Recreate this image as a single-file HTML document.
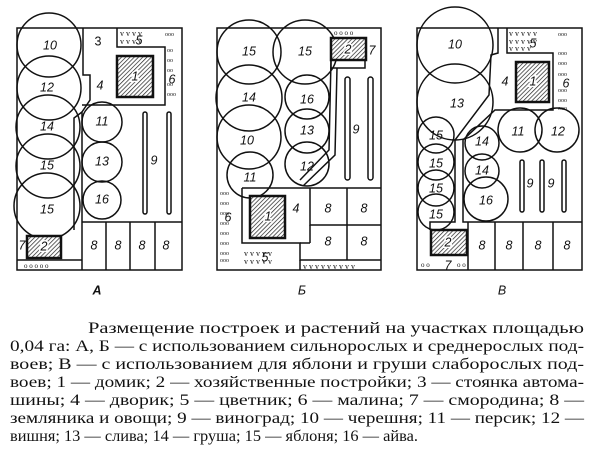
<!DOCTYPE html>
<html><head><meta charset="utf-8"><style>
html,body{margin:0;padding:0;background:#fff;width:604px;height:453px;overflow:hidden}
svg{display:block}
text{font-family:"Liberation Serif",serif;fill:#111}
.n{font-family:"Liberation Sans",sans-serif;font-style:italic;font-size:12.5px;text-anchor:middle;dominant-baseline:middle}
.c{font-size:16px}
</style></head><body>
<svg width="604" height="453" viewBox="0 0 604 453" xmlns="http://www.w3.org/2000/svg">
<defs>
<pattern id="h" width="3" height="3" patternUnits="userSpaceOnUse" patternTransform="rotate(45)">
<rect width="3" height="3" fill="#fff"/><line x1="0" y1="0" x2="0" y2="3" stroke="#222" stroke-width="1.4"/></pattern>
</defs>
<g fill="none" stroke="#111" stroke-width="1.5">
<!-- Panel A -->
<rect x="17" y="28" width="165" height="242"/>
<polyline points="82,270 82,112 90,100 90,75 83,75 83,28"/>
<polyline points="74,230 74,118 82,112"/>
<polyline points="82,105 165,105 165,47 117,47 117,28"/>
<line x1="82" y1="222" x2="182" y2="222"/>
<line x1="106" y1="222" x2="106" y2="270"/><line x1="130" y1="222" x2="130" y2="270"/><line x1="155" y1="222" x2="155" y2="270"/>
<line x1="17" y1="260" x2="82" y2="260"/>
<circle cx="49" cy="45" r="32"/><circle cx="49" cy="88" r="32"/><circle cx="48" cy="127" r="32"/><circle cx="48" cy="166" r="32"/><circle cx="47" cy="206" r="33"/>
<circle cx="102" cy="122" r="20"/><circle cx="102" cy="162" r="20"/><circle cx="102" cy="200" r="19"/>
<rect x="143" y="112" width="4" height="102" rx="2"/><rect x="167" y="112" width="4" height="102" rx="2"/>
<!-- Panel B -->
<rect x="217" y="28" width="164" height="242"/>
<circle cx="249" cy="52" r="32"/><circle cx="305" cy="52" r="32"/><circle cx="249" cy="98" r="33"/><circle cx="307" cy="97" r="22"/>
<circle cx="249" cy="137" r="32"/><circle cx="307" cy="131" r="22"/><circle cx="250" cy="175" r="23"/><circle cx="307" cy="164" r="22"/>
<polyline points="331,60 331,68 365,68 365,60"/>
<polyline points="337,68 335,155 303,186"/><polyline points="331,60 329,150 300,180"/>
<polyline points="242,188 381,188"/>
<polyline points="242,188 242,243 300,243 300,260 381,260"/>
<polyline points="310,188 310,225 381,225"/><line x1="347" y1="188" x2="347" y2="260"/><line x1="300" y1="243" x2="310" y2="243"/><line x1="310" y1="225" x2="310" y2="243"/>
<line x1="300" y1="260" x2="300" y2="270"/>
<rect x="345" y="77" width="5" height="103" rx="2.5"/><rect x="368" y="77" width="5" height="103" rx="2.5"/>
<!-- Panel C -->
<rect x="417" y="28" width="165" height="242"/>
<circle cx="455" cy="45" r="38"/><circle cx="455" cy="102" r="38"/>
<circle cx="436" cy="135" r="18"/><circle cx="436" cy="162" r="18"/><circle cx="436" cy="188" r="18"/><circle cx="436" cy="212" r="18"/>
<circle cx="482" cy="143" r="17"/><circle cx="482" cy="171" r="17"/><circle cx="486" cy="199" r="22"/>
<circle cx="520" cy="130" r="22"/><circle cx="557" cy="130" r="22"/>
<polyline points="498,28 498,53 491,55 489,95 455,140 455,222 430,222 430,230"/>
<polyline points="507,28 507,53 553,53 553,110 495,110 463,140 463,222 582,222"/>
<line x1="495" y1="222" x2="495" y2="270"/><line x1="523" y1="222" x2="523" y2="270"/><line x1="553" y1="222" x2="553" y2="270"/><line x1="468" y1="222" x2="468" y2="270"/>
<rect x="520" y="160" width="4" height="52" rx="2"/><rect x="540" y="160" width="4" height="52" rx="2"/><rect x="562" y="160" width="4" height="52" rx="2"/>
</g>
<g stroke="#111" stroke-width="2.5" fill="url(#h)">
<rect x="117" y="56" width="36" height="41"/><rect x="27" y="236" width="34" height="22"/>
<rect x="331" y="38" width="35" height="22"/><rect x="250" y="196" width="35" height="42"/>
<rect x="516" y="62" width="33" height="40"/><rect x="431" y="230" width="36" height="25"/>
</g>
<g font-size="8" font-family="Liberation Sans" fill="#111">
<text x="120" y="36">v v   v v</text><text x="120" y="44">v v   v v</text>
<text x="244" y="256">v v  v v v</text><text x="244" y="264">v v  v v v</text><text x="303" y="269">v v v v v v v v v</text>
<text x="509" y="36">v v v v v</text><text x="509" y="44">v v v v v</text><text x="509" y="51">v v   v v</text>
<text x="165" y="36" font-size="6">ooo</text><text x="167" y="52" font-size="6">oo</text><text x="167" y="62" font-size="6">oo</text><text x="167" y="72" font-size="6">oo</text><text x="167" y="86" font-size="6">oo</text><text x="167" y="96" font-size="6">ooo</text>
<text x="220" y="195" font-size="6">ooo</text><text x="220" y="205" font-size="6">ooo</text><text x="220" y="215" font-size="6">ooo</text><text x="220" y="225" font-size="6">ooo</text><text x="220" y="235" font-size="6">ooo</text><text x="220" y="245" font-size="6">ooo</text><text x="220" y="255" font-size="6">ooo</text><text x="220" y="262" font-size="6">ooo</text>
<text x="558" y="36" font-size="6">ooo</text><text x="558" y="55" font-size="6">ooo</text><text x="558" y="65" font-size="6">ooo</text><text x="558" y="76" font-size="6">ooo</text><text x="558" y="92" font-size="6">ooo</text><text x="558" y="102" font-size="6">ooo</text><text x="558" y="110" font-size="6">ooo</text>
<text x="24" y="268" font-size="7">o o o o o</text><text x="334" y="35" font-size="7">o o o o</text><text x="421" y="267" font-size="7">o o</text><text x="457" y="267" font-size="7">o o</text>
</g>
<g>
<text class="n" x="50" y="46">10</text><text class="n" x="98" y="42" style="font-style:normal">3</text><text class="n" x="100" y="86">4</text><text class="n" x="47" y="88">12</text><text class="n" x="47" y="127">14</text><text class="n" x="47" y="166">15</text><text class="n" x="47" y="210">15</text>
<text class="n" x="102" y="122">11</text><text class="n" x="102" y="162">13</text><text class="n" x="102" y="200">16</text><text class="n" x="154" y="161">9</text><text class="n" x="135" y="77" stroke="#fff" stroke-width="3" style="paint-order:stroke">1</text><text class="n" x="172" y="80">6</text><text class="n" x="139" y="41">5</text>
<text class="n" x="44" y="247" stroke="#fff" stroke-width="3" style="paint-order:stroke">2</text><text class="n" x="22" y="246">7</text>
<text class="n" x="94" y="246">8</text><text class="n" x="118" y="246">8</text><text class="n" x="142" y="246">8</text><text class="n" x="166" y="246">8</text>
<text class="n" x="249" y="52">15</text><text class="n" x="305" y="52">15</text><text class="n" x="249" y="98">14</text><text class="n" x="307" y="100">16</text><text class="n" x="247" y="141">10</text><text class="n" x="307" y="131">13</text><text class="n" x="250" y="178">11</text><text class="n" x="307" y="167">12</text>
<text class="n" x="356" y="130">9</text><text class="n" x="348" y="50" stroke="#fff" stroke-width="3" style="paint-order:stroke">2</text><text class="n" x="372" y="51">7</text><text class="n" x="296" y="209">4</text><text class="n" x="268" y="217" stroke="#fff" stroke-width="3" style="paint-order:stroke">1</text><text class="n" x="228" y="218">6</text><text class="n" x="265" y="258">5</text>
<text class="n" x="328" y="209">8</text><text class="n" x="364" y="209">8</text><text class="n" x="328" y="242">8</text><text class="n" x="364" y="242">8</text>
<text class="n" x="455" y="45">10</text><text class="n" x="457" y="104">13</text><text class="n" x="436" y="136">15</text><text class="n" x="436" y="164">15</text><text class="n" x="436" y="189">15</text><text class="n" x="436" y="215">15</text>
<text class="n" x="482" y="142">14</text><text class="n" x="482" y="171">14</text><text class="n" x="486" y="201">16</text><text class="n" x="518" y="132">11</text><text class="n" x="558" y="132">12</text>
<text class="n" x="530" y="184">9</text><text class="n" x="551" y="184">9</text><text class="n" x="505" y="82">4</text><text class="n" x="533" y="82" stroke="#fff" stroke-width="3" style="paint-order:stroke">1</text><text class="n" x="566" y="84">6</text><text class="n" x="533" y="44">5</text>
<text class="n" x="448" y="243" stroke="#fff" stroke-width="3" style="paint-order:stroke">2</text><text class="n" x="448" y="266" font-size="9">7</text>
<text class="n" x="482" y="246">8</text><text class="n" x="509" y="246">8</text><text class="n" x="538" y="246">8</text><text class="n" x="567" y="246">8</text>
<text class="n" x="97" y="291" font-weight="bold">А</text><text class="n" x="302" y="291">Б</text><text class="n" x="502" y="291">В</text>
</g>
<g class="c">
<text x="88" y="333" textLength="496" lengthAdjust="spacingAndGlyphs">Размещение построек и растений на участках площадью</text>
<text x="10" y="351" textLength="574" lengthAdjust="spacingAndGlyphs">0,04 га: А, Б — с использованием сильнорослых и среднерослых под-</text>
<text x="10" y="369" textLength="574" lengthAdjust="spacingAndGlyphs">воев; В — с использованием для яблони и груши слаборослых под-</text>
<text x="10" y="387" textLength="574" lengthAdjust="spacingAndGlyphs">воев; 1 — домик; 2 — хозяйственные постройки; 3 — стоянка автома-</text>
<text x="10" y="405" textLength="574" lengthAdjust="spacingAndGlyphs">шины; 4 — дворик; 5 — цветник; 6 — малина; 7 — смородина; 8 —</text>
<text x="10" y="423" textLength="574" lengthAdjust="spacingAndGlyphs">земляника и овощи; 9 — виноград; 10 — черешня; 11 — персик; 12 —</text>
<text x="10" y="441" textLength="408" lengthAdjust="spacingAndGlyphs">вишня; 13 — слива; 14 — груша; 15 — яблоня; 16 — айва.</text>
</g>
</svg>
</body></html>
